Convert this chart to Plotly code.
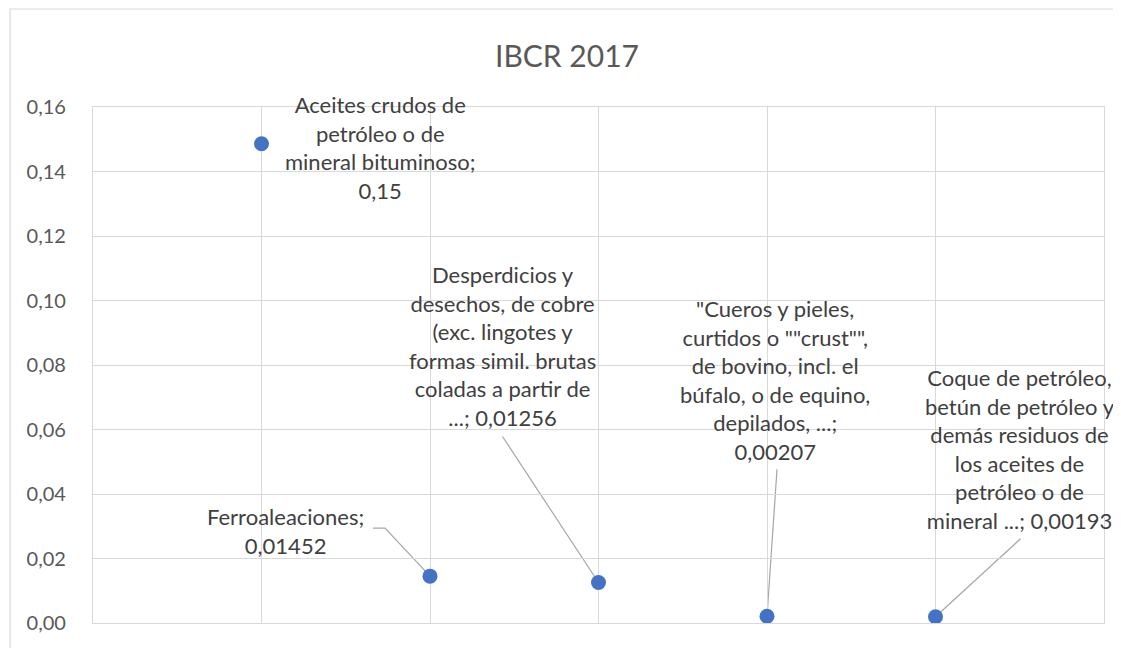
import plotly.graph_objects as go

# ---- data ----
positions = [1, 2, 3, 4, 5]
values = [0.1486, 0.01452, 0.01256, 0.00207, 0.00193]
labels = [
    "Aceites crudos de<br>petróleo o de<br>mineral bituminoso;<br>0,15",
    "Ferroaleaciones;<br>0,01452",
    "Desperdicios y<br>desechos, de cobre<br>(exc. lingotes y<br>formas simil. brutas<br>coladas a partir de<br>...; 0,01256",
    "\"Cueros y pieles,<br>curtidos o \"\"crust\"\",<br>de bovino, incl. el<br>búfalo, o de equino,<br>depilados, ...;<br>0,00207",
    "Coque de petróleo,<br>betún de petróleo y<br>demás residuos de<br>los aceites de<br>petróleo o de<br>mineral ...; 0,00193",
]
y_ticks = [0.00, 0.02, 0.04, 0.06, 0.08, 0.10, 0.12, 0.14, 0.16]
y_ticktext = ["0,00", "0,02", "0,04", "0,06", "0,08", "0,10", "0,12", "0,14", "0,16"]
title_text = "IBCR 2017"

# label offsets in pixels (x right, y up) relative to the point
label_shift = [(119, -4), (-145, 45), (-96, 236), (8, 236), (84, 168)]
# leader-line paths (pixels relative to point), None = no leader
leaders = [
    None,
    "M 0,0 L -45,48 L -57,48",
    "M 0,0 L -96,146",
    "M 0,0 L 10,147",
    "M 0,0 L 85,78",
]

OFF = 8  # default page body margin
W, H = 1121 - OFF, 648 - OFF
ML, MT = 93 - OFF, 107 - OFF
MR = W - (1104 - OFF)
MB = H - (623 - OFF)
PW, PH = W - ML - MR, H - MT - MB

GRID = "#D9D9D9"
FONT = "Lato"

fig = go.Figure()
fig.add_trace(go.Scatter(
    x=positions, y=values, mode="markers",
    marker=dict(size=15, color="#4472C4"),
    hoverinfo="skip", showlegend=False,
))

shapes = []
for xv, yv, path in zip(positions, values, leaders):
    if path is None:
        continue
    shapes.append(dict(
        type="path", xref="x", yref="y",
        xsizemode="pixel", ysizemode="pixel",
        xanchor=xv, yanchor=yv, path=path,
        line=dict(color="#A6A6A6", width=1.2), layer="below",
    ))

# outer chart border (window px -> paper)
def px_x(v):
    return (v - OFF - ML) / PW

def px_y(v):
    return (H - MB - (v - OFF)) / PH

shapes.append(dict(
    type="rect", xref="paper", yref="paper",
    x0=px_x(10), x1=px_x(1118), y0=px_y(660), y1=px_y(9),
    line=dict(color=GRID, width=1.2), fillcolor="rgba(0,0,0,0)", layer="below",
))

annotations = []
for xv, yv, txt, (dx, dy) in zip(positions, values, labels, label_shift):
    annotations.append(dict(
        x=xv, y=yv, xref="x", yref="y", text=txt, showarrow=False,
        xshift=dx, yshift=dy, xanchor="center", yanchor="middle", align="center",
        font=dict(family=FONT, size=22, color="#404040"),
    ))

fig.update_layout(
    width=W, height=H,
    margin=dict(l=ML, r=MR, t=MT, b=MB),
    paper_bgcolor="white", plot_bgcolor="white",
    title=dict(text=title_text, x=(567 - OFF) / W, xanchor="center", xref="container",
               y=1 - (56 - OFF) / H, yanchor="middle", yref="container",
               font=dict(family=FONT, size=30, color="#595959")),
    xaxis=dict(range=[0, 6], tickvals=[0, 1, 2, 3, 4, 5, 6], showticklabels=False,
               showgrid=True, gridcolor=GRID, gridwidth=1.2, zeroline=False,
               showline=True, linecolor=GRID, linewidth=1.2, mirror=True, fixedrange=True),
    yaxis=dict(range=[0, 0.16], tickvals=y_ticks, ticktext=y_ticktext,
               showgrid=True, gridcolor=GRID, gridwidth=1.2, zeroline=False,
               showline=True, linecolor=GRID, linewidth=1.2, mirror=True,
               ticklabelstandoff=22,
               tickfont=dict(family=FONT, size=20, color="#595959"), fixedrange=True),
    shapes=shapes, annotations=annotations,
)

fig.write_html("out.html")
